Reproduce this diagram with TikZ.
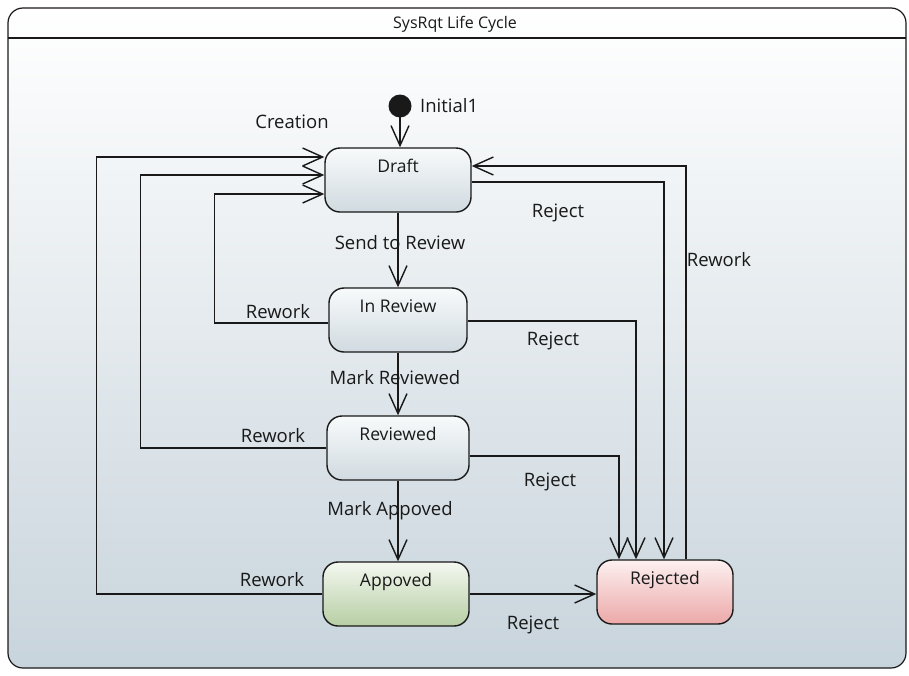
\documentclass[tikz,border=0pt]{standalone}
\usepackage{fontspec}
\setmainfont{Open Sans}
\usepackage{xcolor}
\usetikzlibrary{arrows.meta}
\definecolor{frametop}{RGB}{255,255,255}
\definecolor{framebot}{RGB}{200,212,220}
\definecolor{statetop}{RGB}{248,250,251}
\definecolor{statebot}{RGB}{208,218,224}
\definecolor{approvedtop}{RGB}{244,248,240}
\definecolor{approvedbot}{RGB}{182,206,164}
\definecolor{rejectedtop}{RGB}{253,240,240}
\definecolor{rejectedbot}{RGB}{236,168,168}
\definecolor{ink}{RGB}{25,25,25}

\tikzset{
  state/.style = {draw=ink, line width=1.4pt, rounded corners=15pt,
                  minimum width=142pt, minimum height=64pt, inner sep=0pt,
                  text height=12pt, text depth=28pt,
                  top color=statetop, bottom color=statebot,
                  font=\fontsize{17.5}{20}\selectfont, text=ink},
  trans/.style = {draw=ink, line width=1.4pt,
                  -{Straight Barb[length=20pt,width=18pt]}},
  lbl/.style   = {font=\fontsize{18.5}{22}\selectfont, text=ink, inner sep=0pt}
}

\begin{document}
\begin{tikzpicture}[x=1pt, y=-1pt]
\useasboundingbox (0,0) rectangle (909,675);

% frame
\draw[draw=ink, line width=1.2pt, rounded corners=15pt,
      top color=frametop, bottom color=framebot]
  (8,8) rectangle (906,668);
\draw[draw=ink, line width=1.2pt] (8,38) -- (906,38);
\node[lbl, font=\fontsize{16}{19}\selectfont] (title) at (455,24) {SysRqt Life Cycle};

% states
\fill[ink] (400,106) circle (11.5pt);
\coordinate (init) at (400,117);
\node[lbl, anchor=west] (initlbl) at (420,106) {Initial1};

\node[state, minimum width=146pt] (draft) at (398,180) {Draft};
\node[state, minimum width=138pt] (inreview) at (398,320) {In Review};
\node[state] (reviewed) at (398,448) {Reviewed};
\node[state, minimum width=146pt, top color=approvedtop, bottom color=approvedbot] (appoved) at (396,594) {Appoved};
\node[state, minimum width=136pt, top color=rejectedtop, bottom color=rejectedbot] (rejected) at (665,592) {Rejected};

% main flow
\draw[trans] (init) -- (init |- draft.north);
\draw[trans] (draft) -- (inreview);
\draw[trans] (inreview) -- (reviewed);
\draw[trans] (reviewed.south) -- (reviewed.south |- appoved.north);
\draw[trans] (appoved.east) -- (appoved.east -| rejected.west);

% rework
\draw[trans] ([yshift=-3pt]inreview.west) -- ++(-114,0) |- ([yshift=-14pt]draft.west);
\draw[trans] (reviewed.west) -- ++(-186,0) |- ([yshift=5pt]draft.west);
\draw[trans] (appoved.west) -- ++(-226,0) |- ([yshift=23pt]draft.west);
\draw[trans] ([xshift=21pt]rejected.north) |- ([yshift=14pt]draft.east);

% reject
\draw[trans] ([yshift=-2pt]draft.east) -| ([xshift=-1pt]rejected.north);
\draw[trans] ([yshift=-1pt]inreview.east) -| ([xshift=-29pt]rejected.north);
\draw[trans] ([yshift=-8pt]reviewed.east) -| ([xshift=-46pt]rejected.north);

% labels
\node[lbl] (creation) at (292,122) {Creation};
\node[lbl] (sendrev) at (400,243) {Send to Review};
\node[lbl] (markrev) at (395,378) {Mark Reviewed};
\node[lbl] (markapp) at (390,511) {Mark Appoved};
\node[lbl] (rejdraft) at (558,213) {Reject};
\node[lbl] (rejinrev) at (553,341) {Reject};
\node[lbl] (rejrev) at (550,482) {Reject};
\node[lbl] (rejapp) at (533,625) {Reject};
\node[lbl] (rwinrev) at (278,312) {Rework};
\node[lbl] (rwrev) at (273,436) {Rework};
\node[lbl] (rwapp) at (272,580) {Rework};
\node[lbl] (rwrej) at (719,260) {Rework};
\end{tikzpicture}
\end{document}
